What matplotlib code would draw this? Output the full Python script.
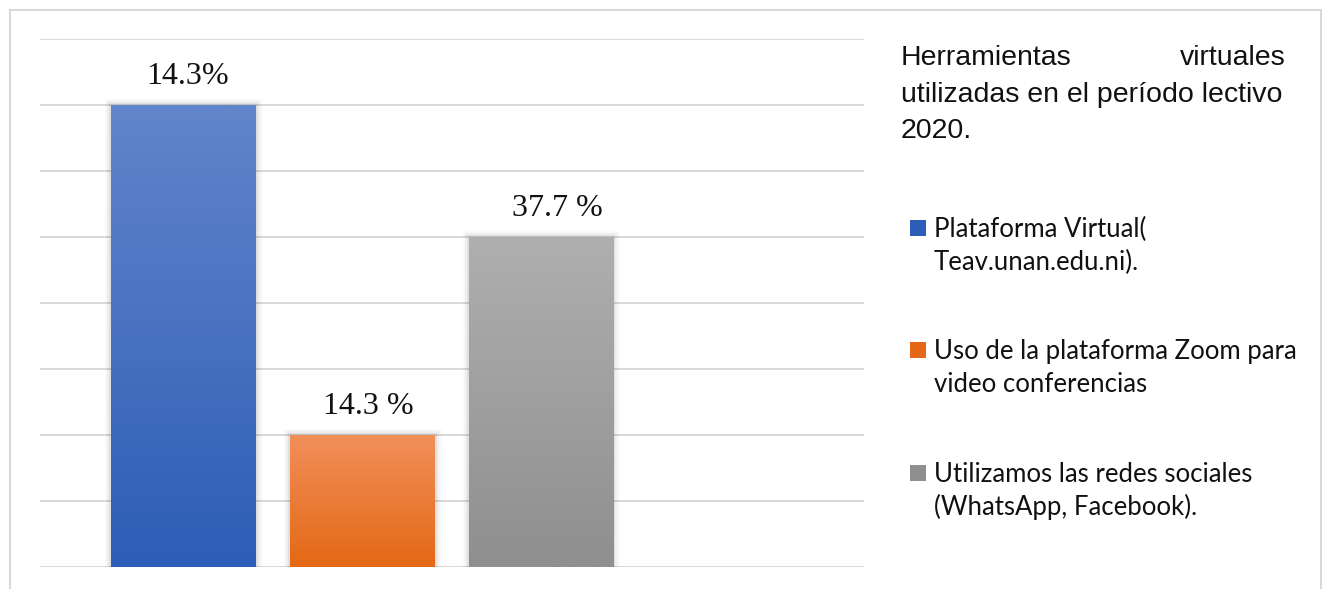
import numpy as np
import matplotlib
matplotlib.use("Agg")
import matplotlib.pyplot as plt
from matplotlib.colors import LinearSegmentedColormap
from matplotlib.patches import Rectangle
from matplotlib.lines import Line2D
import matplotlib.patheffects as pe

# data (bar heights in grid units, labels as printed)
series = ["Plataforma Virtual(\nTeav.unan.edu.ni).",
          "Uso de la plataforma Zoom para\nvideo conferencias",
          "Utilizamos las redes sociales\n(WhatsApp, Facebook)."]
values = [7, 2, 5]
labels = ["14.3%", "14.3 %", "37.7 %"]
label_dx = [3, 4, 12]  # small horizontal nudges seen in the original (points)
top_colors = ["#6285CB", "#F18F5A", "#AFAFAF"]
bot_colors = ["#2D5DB6", "#E46815", "#8F8F8F"]
title_lines = ["utilizadas en el período lectivo", "2020."]

W, H = 1322, 589
fig = plt.figure(figsize=(W / 100, H / 100), dpi=100)
ax = fig.add_axes([40 / W, 1 - 567 / H, (864 - 40) / W, (567 - 39) / H])

x = np.arange(len(values))
bars = ax.bar(x, values, width=0.81, facecolor="none", edgecolor="none", zorder=3)

grad = np.linspace(0, 1, 256).reshape(-1, 1)
for b, c0, c1 in zip(bars, top_colors, bot_colors):
    x0, y0 = b.get_x(), b.get_y()
    w, h = b.get_width(), b.get_height()
    # soft shadow
    sh = Rectangle((x0, y0), w, h, facecolor="#888888", edgecolor="none", zorder=2,
                   path_effects=[pe.Stroke(linewidth=9, foreground="k", alpha=0.025),
                                 pe.Stroke(linewidth=6, foreground="k", alpha=0.04),
                                 pe.Stroke(linewidth=3, foreground="k", alpha=0.06),
                                 pe.Normal()])
    ax.add_patch(sh)
    cmap = LinearSegmentedColormap.from_list("g", [c0, c1])
    im = ax.imshow(grad, cmap=cmap, aspect="auto", extent=[x0, x0 + w, y0, y0 + h],
                   origin="upper", zorder=4)
    im.set_clip_path(b)

for xi, v, lab, dx in zip(x, values, labels, label_dx):
    ax.annotate(lab, (xi, v), xytext=(dx, 15), textcoords="offset points",
                ha="center", va="baseline", fontsize=23,
                family="Liberation Serif", color="#111111")

ax.set_xlim(-0.803, 3.807)
ax.set_ylim(0, 8)
ax.set_yticks(np.arange(0, 9))
ax.grid(axis="y", color="#D9D9D9", linewidth=1.4, zorder=0)
ax.tick_params(left=False, bottom=False, labelleft=False, labelbottom=False)
for s in ax.spines.values():
    s.set_visible(False)

# outer chart frame
bc = "#D9D9D9"
fig.add_artist(Line2D([10 / W, 10 / W], [0, 1 - 10 / H], color=bc, lw=1.5))
fig.add_artist(Line2D([10 / W, 1321 / W], [1 - 10 / H, 1 - 10 / H], color=bc, lw=1.5))
fig.add_artist(Line2D([1320.5 / W, 1320.5 / W], [0, 1 - 10 / H], color=bc, lw=1.5))

# title block (justified first line)
tf = dict(family="Liberation Sans", fontsize=20.5, color="#111111", va="baseline")
fig.text(901 / W, 1 - 65 / H, "Herramientas", ha="left", **tf)
fig.text(1286 / W, 1 - 65 / H, "virtuales", ha="right", **tf)
fig.text(901 / W, 1 - 102 / H, title_lines[0], ha="left", **tf)
fig.text(901 / W, 1 - 138 / H, title_lines[1], ha="left", **tf)

# legend
leg_y = [237, 359, 482]
for lab, c0, c1, yb in zip(series, top_colors, bot_colors, leg_y):
    fig.add_artist(Rectangle((910 / W, 1 - (yb - 1) / H), 16 / W, 16 / H,
                             facecolor=c1, edgecolor="none", transform=fig.transFigure))
    line1, line2 = lab.split("\n")
    fig.text(934 / W, 1 - yb / H, line1, ha="left", va="baseline",
             family="Lato", fontsize=18.5, color="#111111")
    fig.text(934 / W, 1 - (yb + 33) / H, line2, ha="left", va="baseline",
             family="Lato", fontsize=18.5, color="#111111")

fig.savefig("out.png", dpi=100)
